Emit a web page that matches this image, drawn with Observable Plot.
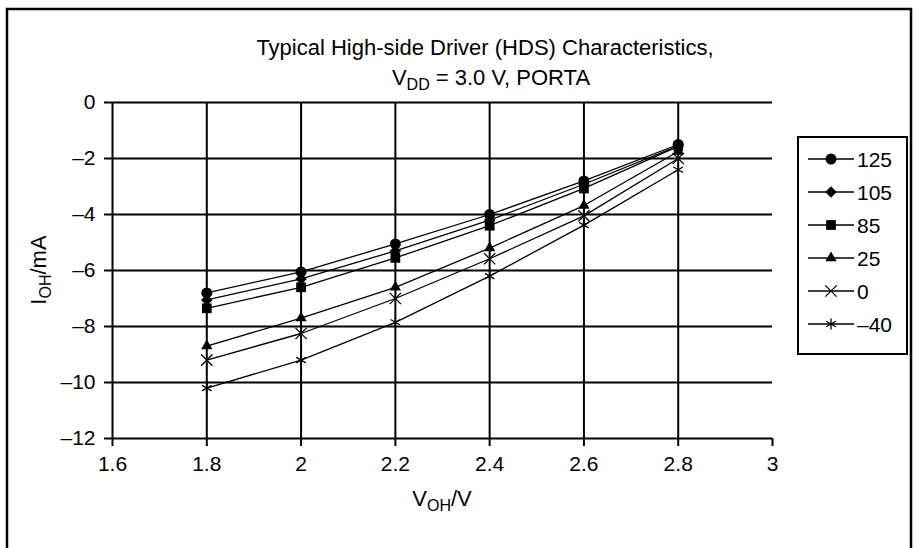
<!DOCTYPE html>
<html><head><meta charset="utf-8">
<script src="https://cdn.jsdelivr.net/npm/d3@7"></script>
<script src="https://cdn.jsdelivr.net/npm/@observablehq/plot@0.6"></script>
<style>
body{margin:0;background:#fff} svg{display:block}
#chart svg g[aria-label*="tick label"], #chart svg g[aria-label*="tick label"] text { font-size: 21px !important; }
</style>
</head><body><div id="chart"></div>
<script>
// Data
const voltages = [1.8, 2.0, 2.2, 2.4, 2.6, 2.8];
const seriesNames = ["125", "105", "85", "25", "0", "–40"];
const i125 = [-6.8, -6.05, -5.05, -4.0, -2.8, -1.5];
const i105 = [-7.05, -6.3, -5.3, -4.2, -2.92, -1.55];
const i85 = [-7.35, -6.6, -5.55, -4.4, -3.07, -1.57];
const i25 = [-8.7, -7.7, -6.6, -5.2, -3.68, -1.75];
const i0 = [-9.2, -8.25, -7.0, -5.58, -4.05, -2.0];
const iM40 = [-10.2, -9.2, -7.85, -6.2, -4.38, -2.4];
const xTicks = [1.6, 1.8, 2, 2.2, 2.4, 2.6, 2.8, 3];
const xGrid = [1.8, 2, 2.2, 2.4, 2.6, 2.8];
const yTicks = [0, -2, -4, -6, -8, -10, -12];
const titleLine1 = "Typical High-side Driver (HDS) Characteristics,";

const valuesList = [i125, i105, i85, i25, i0, iM40];
const symbolList = ["circle", "diamond2", "square", "triangle", "times", "asterisk"];
const sizeList = [5.5, 5.2, 5.5, 4.2, 5.2, 5.2];
const filledList = [true, true, true, true, false, false];

const rows = seriesNames.flatMap((name, k) =>
  voltages.map((v, i) => ({ v, cur: valuesList[k][i], name })));

const font = "Liberation Sans, Arial, Helvetica, sans-serif";

const marks = [
  Plot.ruleY(yTicks, { x1: 1.6, x2: 3, stroke: "black", strokeWidth: 2 }),
  Plot.ruleX(xGrid, { y1: -12, y2: 0, stroke: "black", strokeWidth: 2 }),
  Plot.ruleX([1.6], { y1: -12, y2: 0, stroke: "black", strokeWidth: 2 }),
  Plot.axisX({ ticks: xTicks, tickSize: 8, tickPadding: 10, strokeWidth: 2,
    tickFormat: d => d3.format("~g")(d), label: null, fontSize: 21 }),
  Plot.axisY({ ticks: yTicks, tickSize: 8, tickPadding: 9, strokeWidth: 2,
    tickFormat: d => d === 0 ? "0" : "–" + Math.abs(d), label: null, fontSize: 21 }),
];
seriesNames.forEach((name, k) => {
  const data = rows.filter(r => r.name === name);
  marks.push(Plot.line(data, { x: "v", y: "cur", stroke: "black", strokeWidth: 1.3 }));
});
seriesNames.forEach((name, k) => {
  const data = rows.filter(r => r.name === name);
  marks.push(Plot.dot(data, { x: "v", y: "cur", symbol: symbolList[k], r: sizeList[k],
    fill: filledList[k] ? "black" : "none", stroke: "black", strokeWidth: filledList[k] ? 0 : 1.3 }));
});

const chart = Plot.plot({
  width: 919, height: 548,
  marginLeft: 112, marginRight: 147, marginTop: 102, marginBottom: 110,
  x: { domain: [1.6, 3] },
  y: { domain: [-12, 0] },
  style: { fontFamily: font, fontSize: "21px", color: "black", background: "white", overflow: "visible" },
  marks
});
document.getElementById("chart").appendChild(chart);

const svg = d3.select(chart);

// outer border
svg.append("path").attr("d", "M7,560 V9 H911 V560").attr("fill", "none").attr("stroke", "black").attr("stroke-width", 2.5);

function addText(x, y, size, anchor) {
  return svg.append("text").attr("x", x).attr("y", y).attr("text-anchor", anchor || "middle")
    .attr("font-family", font).attr("font-size", size).attr("fill", "black");
}
// title
addText(485, 55, 22).text(titleLine1);
const t2 = addText(491, 85, 22);
t2.append("tspan").text("V");
t2.append("tspan").attr("font-size", 16).attr("dy", 5).text("DD");
t2.append("tspan").attr("dy", -5).text(" = 3.0 V, PORTA");

// x label
const xl = addText(442, 506, 22);
xl.append("tspan").text("V");
xl.append("tspan").attr("font-size", 16).attr("dy", 5).text("OH");
xl.append("tspan").attr("dy", -5).text("/V");

// y label
const yl = svg.append("text").attr("transform", "translate(46,270) rotate(-90)").attr("text-anchor", "middle")
  .attr("font-family", font).attr("font-size", 22).attr("fill", "black");
yl.append("tspan").text("I");
yl.append("tspan").attr("font-size", 16).attr("dy", 5).text("OH");
yl.append("tspan").attr("dy", -5).text("/mA");

// legend
const lg = svg.append("g");
const lgTop = 137, lgBottom = 354, lgLeft = 798, lgRight = 907;
lg.append("rect").attr("x", lgLeft).attr("y", lgTop).attr("width", lgRight - lgLeft).attr("height", lgBottom - lgTop)
  .attr("fill", "white").attr("stroke", "black").attr("stroke-width", 2);
const symMap = { circle: d3.symbolCircle, diamond2: d3.symbolDiamond2, square: d3.symbolSquare,
  triangle: d3.symbolTriangle, times: d3.symbolTimes, asterisk: d3.symbolAsterisk };
seriesNames.forEach((name, k) => {
  const cy = 159 + k * 33;
  lg.append("line").attr("x1", 808).attr("x2", 854).attr("y1", cy).attr("y2", cy)
    .attr("stroke", "black").attr("stroke-width", 1.5);
  const r = sizeList[k];
  lg.append("path").attr("transform", `translate(831,${cy})`)
    .attr("d", d3.symbol(symMap[symbolList[k]], Math.PI * r * r)())
    .attr("fill", filledList[k] ? "black" : "none").attr("stroke", "black")
    .attr("stroke-width", filledList[k] ? 0 : 1.3);
  lg.append("text").attr("x", 857).attr("y", cy).attr("dy", "0.36em").attr("text-anchor", "start")
    .attr("font-family", font).attr("font-size", 21).attr("fill", "black").text(name);
});
</script>
</body></html>
